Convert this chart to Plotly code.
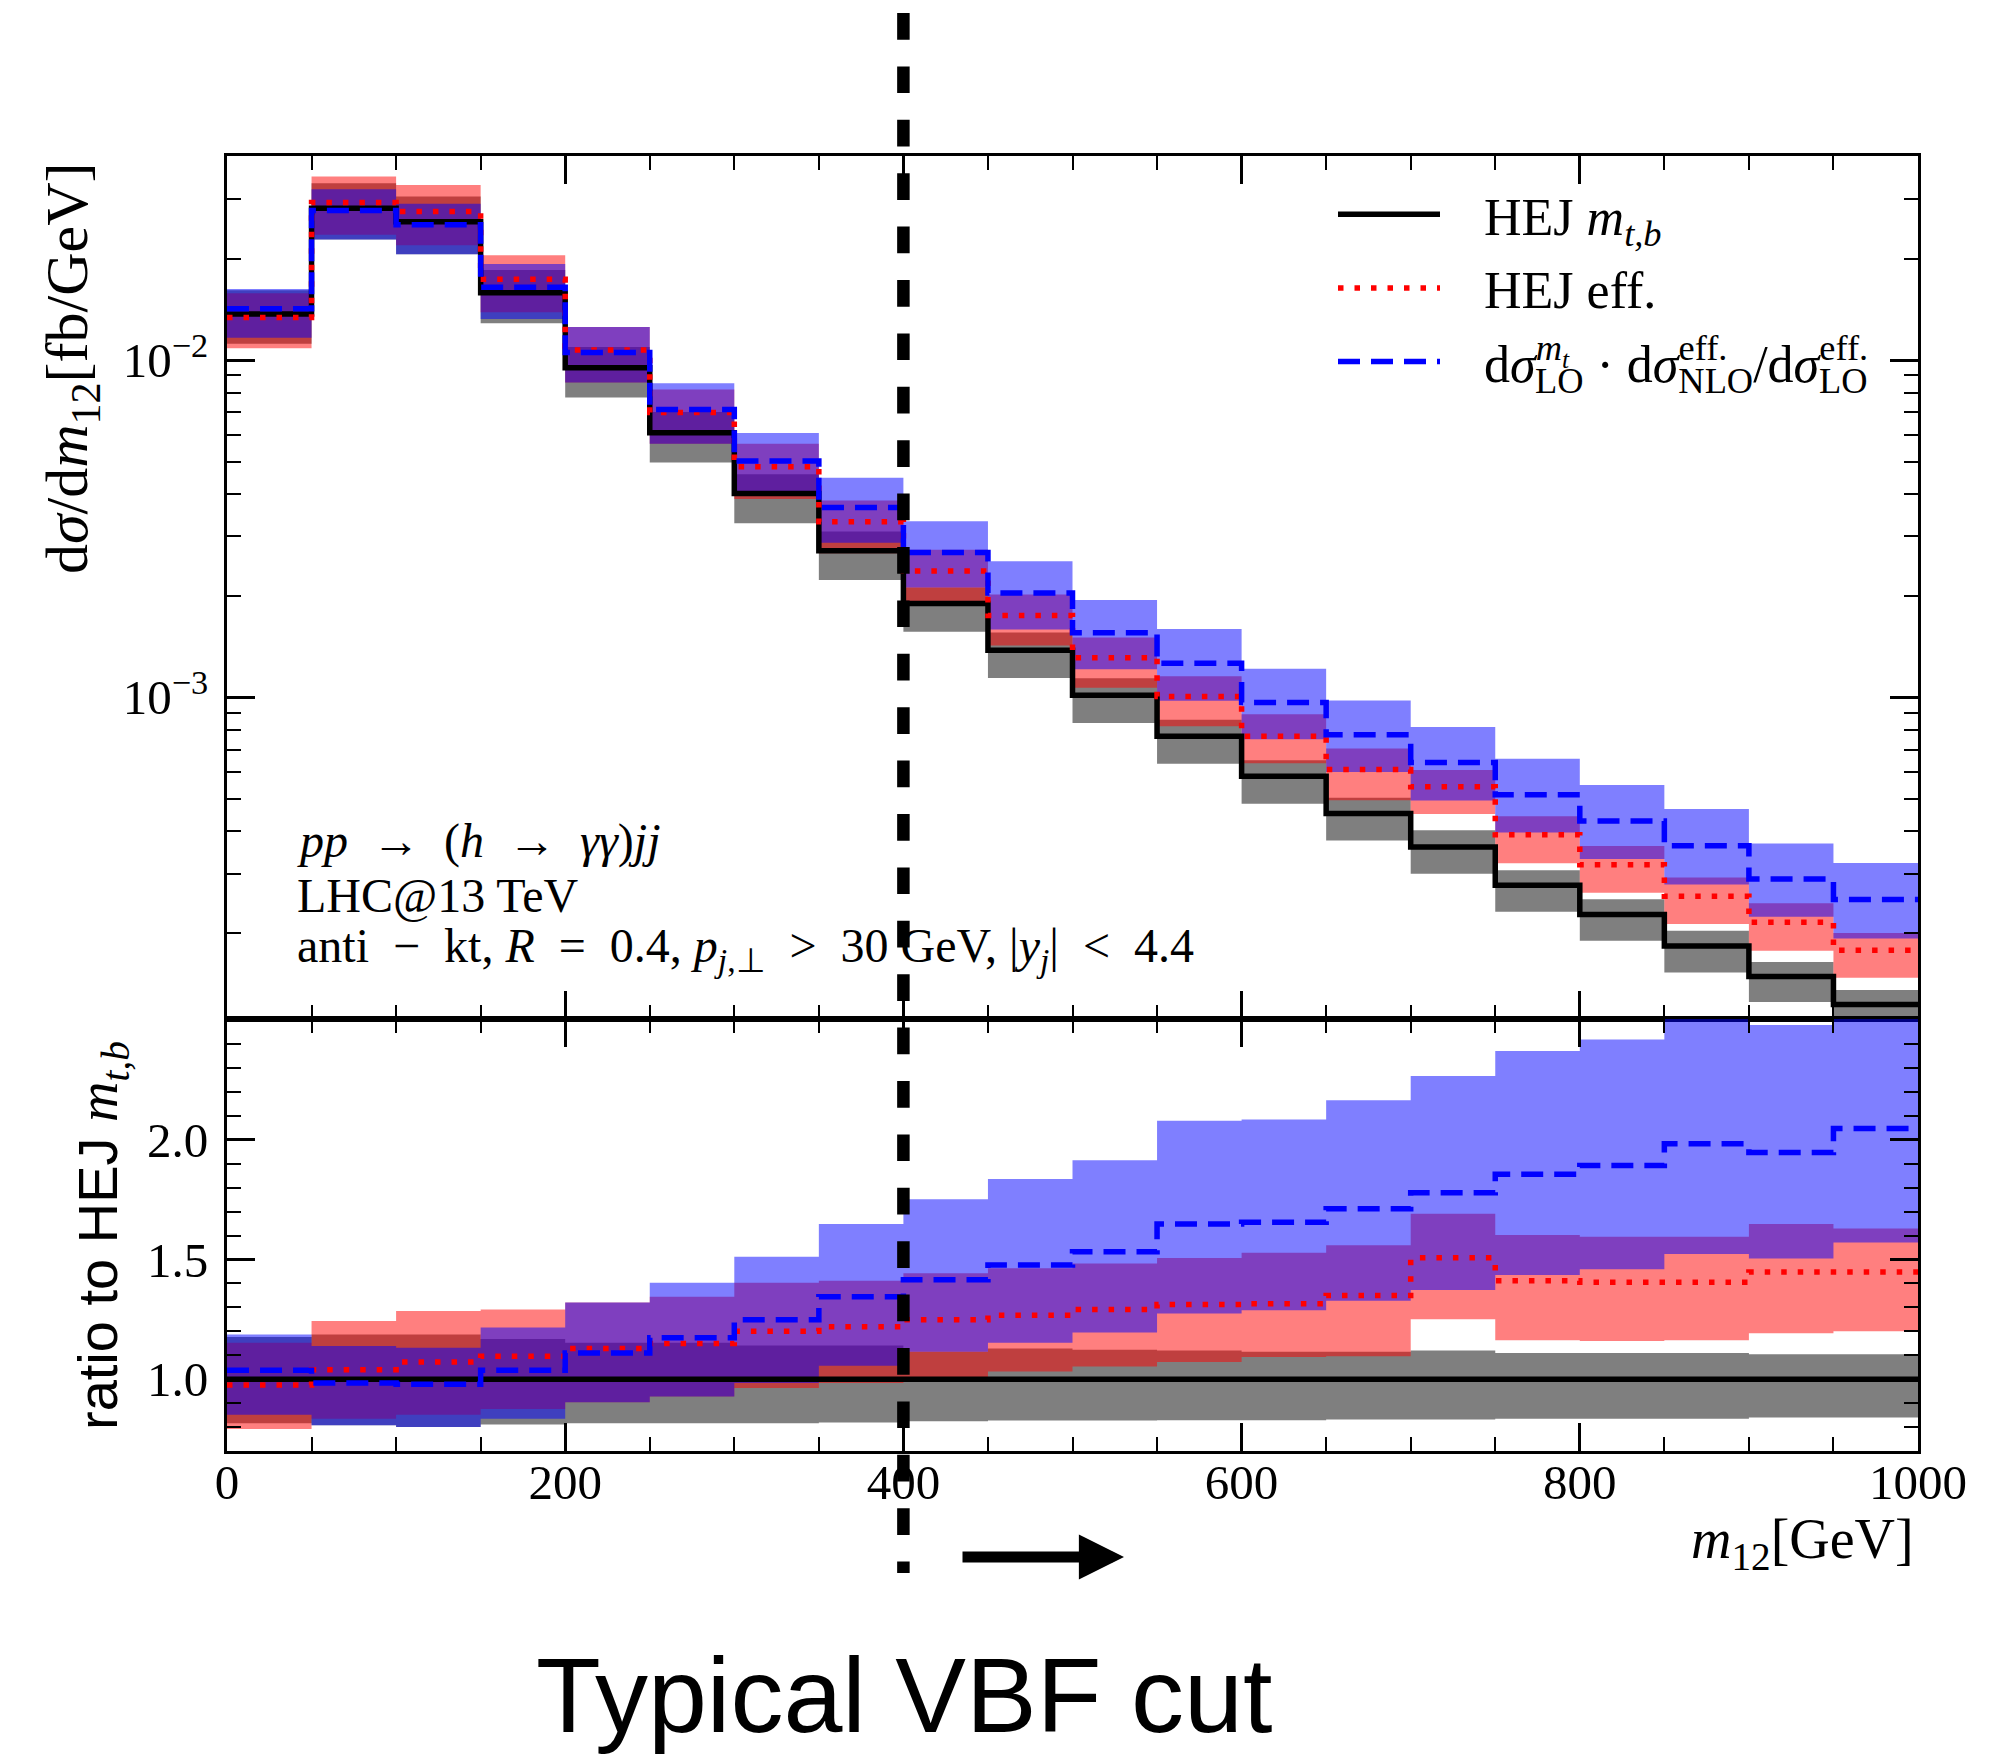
import plotly.graph_objects as go

W, H = 2014, 1754

# ---------------- data ----------------
edges = list(range(0, 1001, 50))  # m12 bin edges [GeV]

# HEJ m_{t,b} central values, dsigma/dm12 [fb/GeV]
hej_mtb = [0.01369, 0.02819, 0.02572, 0.01584, 0.009488, 0.006085, 0.004021, 0.002718,
           0.001897, 0.001379, 0.001014, 0.000766, 0.000583, 0.000452, 0.000360, 0.000277,
           0.000227, 0.000183, 0.0001486, 0.0001227]

# everything below: ratio to HEJ m_{t,b} central value
mtb_lo = [0.816, 0.808, 0.800, 0.811, 0.816, 0.816, 0.816, 0.819, 0.824, 0.827,
          0.827, 0.829, 0.829, 0.832, 0.832, 0.835, 0.835, 0.835, 0.840, 0.840]
mtb_hi = [1.176, 1.187, 1.187, 1.168, 1.152, 1.152, 1.141, 1.141, 1.115, 1.128,
          1.123, 1.120, 1.115, 1.115, 1.120, 1.109, 1.109, 1.109, 1.104, 1.104]

eff_c = [0.976, 1.040, 1.072, 1.096, 1.128, 1.149, 1.200, 1.219, 1.248, 1.267,
         1.291, 1.312, 1.315, 1.350, 1.507, 1.411, 1.405, 1.405, 1.448, 1.448]
eff_lo = [0.792, 0.835, 0.851, 0.875, 0.904, 0.928, 0.963, 0.984, 1.008, 1.032,
          1.053, 1.072, 1.093, 1.096, 1.251, 1.163, 1.160, 1.163, 1.192, 1.200]
eff_hi = [1.152, 1.243, 1.285, 1.291, 1.320, 1.344, 1.403, 1.411, 1.443, 1.464,
          1.483, 1.506, 1.528, 1.560, 1.691, 1.603, 1.595, 1.595, 1.648, 1.630]

resc_c = [1.037, 0.984, 0.979, 1.037, 1.109, 1.173, 1.248, 1.344, 1.416, 1.477,
          1.533, 1.648, 1.656, 1.712, 1.779, 1.856, 1.893, 1.984, 1.947, 2.048]
resc_lo = [0.851, 0.808, 0.800, 0.835, 0.904, 0.928, 0.984, 1.056, 1.115, 1.152,
           1.195, 1.275, 1.288, 1.328, 1.373, 1.435, 1.459, 1.523, 1.504, 1.571]
resc_hi = [1.187, 1.139, 1.131, 1.216, 1.320, 1.403, 1.512, 1.648, 1.752, 1.837,
           1.915, 2.080, 2.085, 2.165, 2.267, 2.371, 2.419, 2.550, 2.480, 2.630]

x_major = [0, 200, 400, 600, 800, 1000]
x_major_text = ["0", "200", "400", "600", "800", "1000"]
x_minor = [v for v in range(50, 1000, 50) if v % 200 != 0]
y1_major = [1e-3, 1e-2]
y1_major_text = ["10<sup>\u22123</sup>", "10<sup>\u22122</sup>"]
y1_minor = [m * 10.0 ** e for e in (-4, -3, -2) for m in range(2, 10)]
y2_major = [1.0, 1.5, 2.0]
y2_major_text = ["1.0", "1.5", "2.0"]
y2_minor = [round(0.8 + 0.1 * i, 1) for i in range(17) if round(0.8 + 0.1 * i, 1) not in (1.0, 1.5, 2.0)]

vbf_cut = 400

# ---------------- helpers ----------------
def px(p):
    return p / W

def py(p):
    return 1 - p / H

def step(v):
    return list(v) + [v[-1]]

def mul(a, b):
    return [x * y for x, y in zip(a, b)]

SERIF = "Liberation Serif"
SANS = "Liberation Sans"
GRAY = "rgba(0,0,0,0.5)"
RED = "rgba(255,0,0,0.5)"
BLUE = "rgba(0,0,255,0.5)"
LW = 5.5
NB = "\u00a0"

fig = go.Figure()

def band(lo, hi, color, xa, ya):
    fig.add_trace(go.Scatter(x=edges, y=step(lo), mode="lines",
                             line=dict(width=0, shape="hv", color=color),
                             showlegend=False, hoverinfo="skip", xaxis=xa, yaxis=ya))
    fig.add_trace(go.Scatter(x=edges, y=step(hi), mode="lines",
                             line=dict(width=0, shape="hv", color=color),
                             fill="tonexty", fillcolor=color,
                             showlegend=False, hoverinfo="skip", xaxis=xa, yaxis=ya))

def back(pxs):
    # pulls the following text back so that a subscript sits under the superscript
    return "<span style=\"letter-spacing:-%dpx\">%s</span>" % (pxs, NB)

names = [NB * 3 + "HEJ <i>m</i><sub><i>t,b</i></sub>",
         NB * 3 + "HEJ eff.",
         NB * 3 + "d<i>\u03c3</i><sup><i>m</i><sub><i>t</i></sub></sup>" + back(47) + "<sub>LO</sub> \u00b7 "
         "d<i>\u03c3</i><sup>eff.</sup>" + back(62) + "<sub>NLO</sub>/d<i>\u03c3</i><sup>eff.</sup>"
         + back(62) + "<sub>LO</sub>"]

styles = [dict(color="black", width=LW, shape="hv"),
          dict(color="red", width=LW, shape="hv", dash="5.5px,11px"),
          dict(color="blue", width=LW, shape="hv", dash="22px,11px")]

# top panel (absolute values)
band(mul(hej_mtb, mtb_lo), mul(hej_mtb, mtb_hi), GRAY, "x", "y")
band(mul(hej_mtb, eff_lo), mul(hej_mtb, eff_hi), RED, "x", "y")
band(mul(hej_mtb, resc_lo), mul(hej_mtb, resc_hi), BLUE, "x", "y")
top_central = [hej_mtb, mul(hej_mtb, eff_c), mul(hej_mtb, resc_c)]
for i in range(3):
    fig.add_trace(go.Scatter(x=edges, y=step(top_central[i]), mode="lines", line=styles[i],
                             name=names[i], legendgroup="g%d" % i, showlegend=True,
                             hoverinfo="skip", xaxis="x", yaxis="y"))

# bottom panel (ratios)
band(mtb_lo, mtb_hi, GRAY, "x2", "y2")
band(eff_lo, eff_hi, RED, "x2", "y2")
band(resc_lo, resc_hi, BLUE, "x2", "y2")
ratio_central = [[h / h for h in hej_mtb], eff_c, resc_c]
for i in range(3):
    fig.add_trace(go.Scatter(x=edges, y=step(ratio_central[i]), mode="lines", line=styles[i],
                             showlegend=False, hoverinfo="skip", xaxis="x2", yaxis="y2"))

# ---------------- axes ----------------
common = dict(showline=True, linewidth=3, linecolor="black", mirror="allticks",
              ticks="inside", ticklen=28, tickwidth=2.5, tickcolor="black",
              showgrid=False, zeroline=False,
              tickfont=dict(family=SERIF, size=49, color="black"))

def minor(vals):
    return dict(ticks="inside", ticklen=14, tickwidth=2, tickcolor="black",
                showgrid=False, tickmode="array", tickvals=vals)

xdom = [px(227), px(1918)]
fig.update_layout(
    xaxis=dict(domain=xdom, range=[0, 1000], anchor="y", showticklabels=False,
               tickmode="array", tickvals=x_major, minor=minor(x_minor), **common),
    yaxis=dict(domain=[py(1019), py(156)], type="log", range=[-3.954, -1.395], anchor="x",
               tickmode="array", tickvals=y1_major, ticktext=y1_major_text,
               minor=minor(y1_minor), ticklabelstandoff=6, **common),
    xaxis2=dict(domain=xdom, range=[0, 1000], anchor="y2",
                tickmode="array", tickvals=x_major, ticktext=x_major_text,
                minor=minor(x_minor), ticklabelstandoff=-14, **common),
    yaxis2=dict(domain=[py(1451), py(1019)], range=[0.70, 2.505], anchor="x2",
                tickmode="array", tickvals=y2_major, ticktext=y2_major_text,
                minor=minor(y2_minor), ticklabelstandoff=6, **common),
)

fig.update_layout(
    width=W, height=H, margin=dict(l=0, r=0, t=0, b=0, autoexpand=False),
    paper_bgcolor="white", plot_bgcolor="white",
    font=dict(family=SERIF, size=48, color="black"),
    showlegend=True,
    legend=dict(x=px(1333), y=py(174), xanchor="left", yanchor="top",
                bgcolor="rgba(0,0,0,0)", borderwidth=0, itemwidth=102,
                tracegroupgap=3, font=dict(family=SERIF, size=52, color="black")),
)

# vertical VBF cut line
fig.add_shape(type="line", xref="x", yref="paper", x0=vbf_cut, x1=vbf_cut,
              y0=py(13), y1=py(1573), layer="above",
              line=dict(color="black", width=12.5, dash="26.7px,26.7px"))

ann = []
# axis titles
ann.append(dict(xref="paper", yref="paper", x=px(72), y=py(160), xanchor="center", yanchor="top",
                textangle=-90, showarrow=False,
                text="d<i>\u03c3</i>/d<i>m</i><sub>12</sub>[fb/GeV]",
                font=dict(family=SERIF, size=60, color="black")))
ann.append(dict(xref="paper", yref="paper", x=px(101), y=py(1236), xanchor="center", yanchor="middle",
                textangle=-90, showarrow=False,
                text="ratio to HEJ <span style=\"font-family:Liberation Serif\"><i>m</i><sub><i>t,b</i></sub></span>",
                font=dict(family=SANS, size=56, color="black")))
ann.append(dict(xref="paper", yref="paper", x=px(1916), y=py(1543), xanchor="right", yanchor="middle",
                showarrow=False, text="<i>m</i><sub>12</sub>[GeV]",
                font=dict(family=SERIF, size=56, color="black")))
# process info
arrow = NB + "\u2192" + NB
info = ["<i>pp</i> " + arrow + " (<i>h</i> " + arrow + " <i>\u03b3\u03b3</i>)<i>jj</i>",
        "LHC@13 TeV",
        "anti" + NB + " \u2212 " + NB + "kt, <i>R</i>" + NB + " = " + NB + "0.4, <i>p</i><sub><i>j</i>,\u22a5</sub>"
        + NB + " &gt; " + NB + "30 GeV, |<i>y</i><sub><i>j</i></sub>|" + NB + " &lt; " + NB + "4.4"]
sizes = [48, 48, 48]
for t, yc, fs in zip(info, [841, 895, 949], sizes):
    ann.append(dict(xref="paper", yref="paper", x=px(295), y=py(yc), xanchor="left", yanchor="middle",
                    showarrow=False, text=t, font=dict(family=SERIF, size=fs, color="black")))
# arrow and caption
ann.append(dict(xref="paper", yref="paper", x=px(1124), y=py(1557), ax=-163, ay=0,
                axref="pixel", ayref="pixel", showarrow=True, arrowhead=2, arrowsize=0.82,
                arrowwidth=11, arrowcolor="black", text="", standoff=0, startstandoff=0))
ann.append(dict(xref="paper", yref="paper", x=px(904), y=py(1695), xanchor="center", yanchor="middle",
                showarrow=False, text="Typical VBF cut",
                font=dict(family=SANS, size=106, color="black")))
fig.update_layout(annotations=ann)

fig.write_html("out.html", config={"displayModeBar": False},
               post_script="document.body.style.margin='0';")
